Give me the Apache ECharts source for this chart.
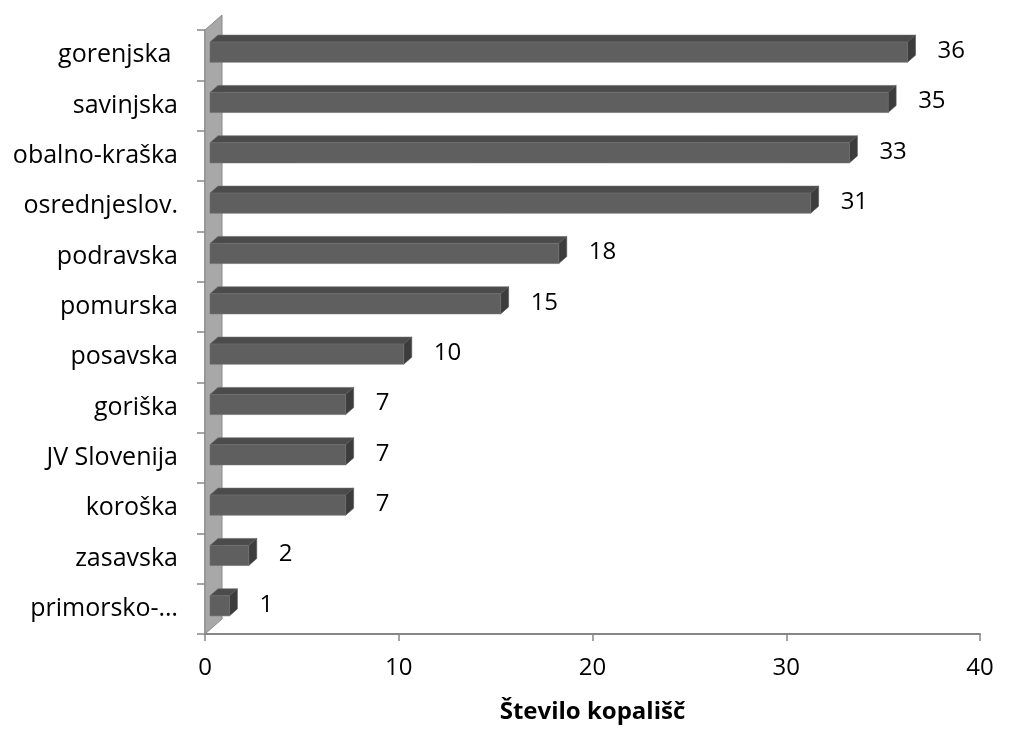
<!DOCTYPE html>
<html><head><meta charset="utf-8">
<script src="https://cdn.jsdelivr.net/npm/echarts@6/dist/echarts.min.js"></script>
<style>html,body{margin:0;padding:0;background:#fff}#c{width:1009px;height:731px}</style>
</head><body><div id="c"></div>
<script>
const categories = ['gorenjska ','savinjska','obalno-kraška','osrednjeslov.','podravska','pomurska','posavska','goriška','JV Slovenija','koroška','zasavska','primorsko-…'];
const values = [36,35,33,31,18,15,10,7,7,7,2,1];
const xTicks = [0,10,20,30,40];
const axisTitle = 'Število kopališč';

const FONT = '"Open Sans", "Liberation Sans", sans-serif';
const chart = echarts.init(document.getElementById('c'));

function renderBar(params, api) {
  const idx = api.value(0);
  const v = api.value(1);
  const p0 = api.coord([0, idx]);
  const p1 = api.coord([v, idx]);
  const band = api.size([0, 1])[1];
  const h = band * 0.4;
  const shiftX = 5, shiftY = -3;
  const dx = 8, dy = -7;
  const xl = p0[0] + shiftX, xr = p1[0] + shiftX;
  const yt = p0[1] + shiftY - h / 2, yb = p0[1] + shiftY + h / 2;
  return {
    type: 'group',
    children: [
      { type: 'polygon', shape: { points: [[xl, yt], [xl + dx, yt + dy], [xr + dx, yt + dy], [xr, yt]] },
        style: { fill: '#4b4b4b', stroke: '#6a6a6a', lineWidth: 0.6 } },
      { type: 'polygon', shape: { points: [[xr, yt], [xr + dx, yt + dy], [xr + dx, yb + dy], [xr, yb]] },
        style: { fill: '#3c3c3c', stroke: '#555', lineWidth: 0.6 } },
      { type: 'rect', shape: { x: xl, y: yt, width: xr - xl, height: h },
        style: { fill: '#5f5f5f', stroke: '#6e6e6e', lineWidth: 0.6 } },
      { type: 'text', x: xr + dx + 22, y: p0[1] - 4,
        style: { text: String(v), fontSize: 24, fontFamily: FONT, fill: '#000', verticalAlign: 'middle', align: 'left' } }
    ]
  };
}

function renderWall(params, api) {
  const cs = params.coordSys;
  const x = cs.x, y = cs.y, hgt = cs.height;
  const d = 17;
  return {
    type: 'polygon',
    shape: { points: [[x, y + hgt], [x, y], [x + d, y - d + 2], [x + d, y + hgt - d + 2]] },
    style: { fill: '#a8a8a8', stroke: '#8a8a8a', lineWidth: 1 }
  };
}

chart.setOption({
  animation: false,
  grid: { left: 205, right: 29, top: 30, bottom: 97 },
  xAxis: {
    type: 'value', min: 0, max: 40, interval: 10,
    axisLine: { show: true, lineStyle: { color: '#868686', width: 2 } },
    axisTick: { show: true, length: 7, lineStyle: { color: '#868686', width: 1.5 } },
    splitLine: { show: false },
    axisLabel: { fontSize: 24, fontFamily: FONT, color: '#000', margin: 22,
      formatter: function (val) { return xTicks.indexOf(val) >= 0 ? String(val) : ''; } },
    name: axisTitle, nameLocation: 'middle', nameGap: 66,
    nameTextStyle: { fontSize: 24, fontWeight: 'bold', fontFamily: FONT, color: '#000' }
  },
  yAxis: {
    type: 'category', data: categories, inverse: true,
    axisLine: { show: true, lineStyle: { color: '#868686', width: 1.5 } },
    axisTick: { show: true, length: 8, lineStyle: { color: '#868686', width: 1.5 } },
    axisLabel: { fontSize: 25, fontFamily: FONT, color: '#000', margin: 27 }
  },
  series: [
    { type: 'custom', renderItem: renderWall, data: [[0, 0]], z: 1, silent: true, clip: false },
    { type: 'custom', renderItem: renderBar, encode: { x: 1, y: 0 },
      data: values.map((v, i) => [i, v]), z: 2, clip: false }
  ]
});
</script></body></html>
